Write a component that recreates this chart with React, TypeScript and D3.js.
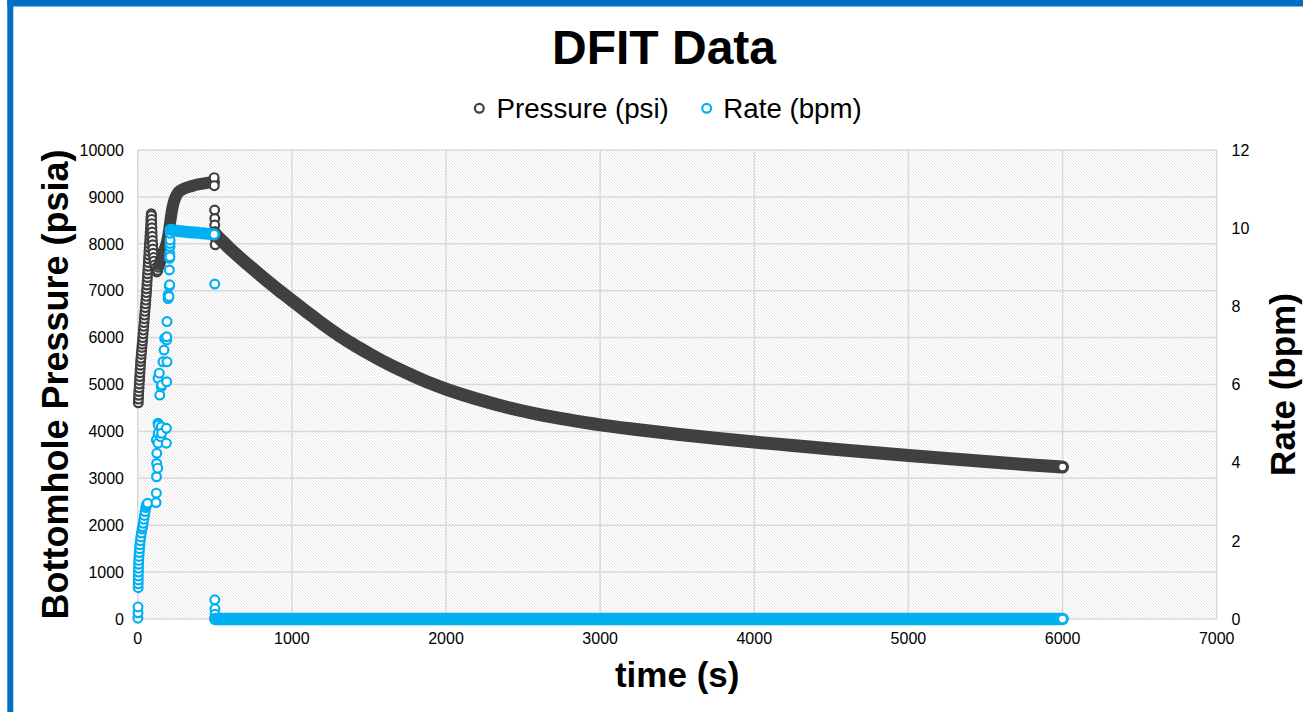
import React from 'react';
import * as d3 from 'd3';

const WIDTH = 1303;
const HEIGHT = 712;

const PRESSURE_COLOR = '#404040';
const RATE_COLOR = '#00B0F0';
const GRID_COLOR = '#d9d9d9';
const FONT = '"Liberation Sans", Arial, Helvetica, sans-serif';

type Pt = [number, number];

// Axis ticks
const timeTicks = [0, 1000, 2000, 3000, 4000, 5000, 6000, 7000];
const pressureTicks = [0, 1000, 2000, 3000, 4000, 5000, 6000, 7000, 8000, 9000, 10000];
const rateTicks = [0, 2, 4, 6, 8, 10, 12];

// Bottomhole pressure (time s, psi)
// pumping ramp up to breakdown
const pressureRamp: Pt[] = [
  [4, 4610], [5, 4690], [6, 4770], [7, 4850], [9, 4930], [10, 5010], [12, 5090], [13, 5170],
  [15, 5250], [16, 5330], [18, 5410], [19, 5490], [21, 5560], [23, 5640], [25, 5710], [27, 5790],
  [29, 5860], [31, 5930], [33, 6000], [35, 6080], [37, 6160], [39, 6240], [41, 6320], [43, 6400],
  [45, 6480], [47, 6560], [49, 6640], [51, 6720], [53, 6800], [55, 6880], [57, 6960], [58, 7040],
  [60, 7120], [61, 7200], [63, 7280], [64, 7360], [66, 7440], [67, 7520], [69, 7600], [70, 7680],
  [72, 7760], [73, 7840], [75, 7920], [76, 8000], [78, 8080], [79, 8160], [81, 8240], [82, 8320],
  [84, 8400], [85, 8480], [86, 8560], [88, 8640],
];
// breakdown and pressure dip
const pressureBreak: Pt[] = [
  [89, 8600], [90, 8520], [91, 8430], [92, 8340], [93, 8250], [94, 8160], [95, 8070], [97, 7980],
  [98, 7890], [100, 7800], [103, 7710], [106, 7630], [110, 7550], [114, 7480], [119, 7430],
  [124, 7400], [130, 7430], [136, 7500],
];
// continuous build to end of pumping
const pressureBuild: Pt[] = [
  [140, 7560], [155, 7700], [170, 7850], [185, 7980], [195, 8120], [205, 8320], [215, 8560],
  [225, 8760], [235, 8900], [245, 8990], [260, 9080], [280, 9140], [310, 9190], [350, 9230],
  [400, 9270], [450, 9300], [494, 9320],
];
// instantaneous shut-in drop
const pressureShut: Pt[] = [
  [496, 9410], [497, 9240], [499, 8720], [500, 8540], [500, 8400], [501, 8260], [502, 8120], [503, 7980],
];
// falloff after shut-in
const pressureFalloff: Pt[] = [
  [505, 8200], [550, 8050], [600, 7890], [700, 7600], [800, 7320], [900, 7050], [1000, 6795],
  [1100, 6540], [1200, 6290], [1300, 6060], [1400, 5850], [1500, 5660], [1600, 5480], [1700, 5315],
  [1800, 5165], [1900, 5025], [2000, 4900], [2200, 4690], [2400, 4510], [2600, 4365], [2800, 4245],
  [3000, 4140], [3250, 4035], [3500, 3940], [3750, 3853], [4000, 3773], [4250, 3700], [4500, 3625],
  [4750, 3555], [5000, 3487], [5250, 3420], [5500, 3356], [5750, 3296], [6000, 3240],
];

// Injection rate (time s, bpm)
const rateStart: Pt[] = [[1, 0.02], [2, 0.16], [2, 0.31]];
const rateRamp: Pt[] = [
  [3, 0.8], [3, 0.9], [4, 1.0], [4, 1.1], [5, 1.2], [5, 1.3], [6, 1.4], [7, 1.5], [8, 1.6],
  [10, 1.7], [12, 1.8], [14, 1.9], [17, 2.0], [20, 2.1], [24, 2.2], [28, 2.3], [32, 2.36],
  [36, 2.45], [40, 2.55], [44, 2.65], [48, 2.75], [52, 2.85], [56, 2.9], [60, 2.94], [64, 2.96],
];
const rateStep: Pt[] = [
  [119, 2.98], [121, 3.22], [121, 4.58], [122, 3.64], [123, 3.98], [124, 4.24], [130, 3.86],
  [132, 4.5], [132, 5.01], [132, 6.16], [133, 4.75], [134, 4.96], [140, 6.29], [143, 5.73],
  [150, 4.66], [153, 4.92], [153, 5.94], [155, 4.75], [156, 5.99], [164, 6.58], [171, 6.88],
  [175, 7.18], [186, 4.5], [186, 4.88], [188, 6.07], [188, 7.14], [188, 7.22], [190, 6.58],
  [190, 7.61], [197, 8.2], [197, 8.29], [203, 8.25], [205, 8.52], [205, 8.93], [207, 8.55],
  [207, 9.23], [208, 9.36], [209, 9.27], [209, 9.53], [210, 9.61], [210, 9.7], [211, 9.87],
];
const ratePlateau: Pt[] = [
  [213, 9.96], [240, 9.94], [280, 9.92], [320, 9.9], [360, 9.89], [400, 9.88], [440, 9.86], [496, 9.84],
];
const rateShut: Pt[] = [[500, 8.57], [500, 0.49], [501, 0.26], [502, 0.12]];
const rateZero: Pt[] = [
  [503, 0], [1000, 0], [2000, 0], [3000, 0], [4000, 0], [5000, 0], [6000, 0],
];

const MARKER_R = 4.4;
const MARKER_W = 2.2;

type Scale = (v: number) => number;

function Rings({ pts, sx, sy, color }: { pts: Pt[]; sx: Scale; sy: Scale; color: string }) {
  return (
    <g>
      {pts.map((d, i) => (
        <circle key={i} cx={sx(d[0])} cy={sy(d[1])} r={MARKER_R} fill="#fff" stroke={color} strokeWidth={MARKER_W} />
      ))}
    </g>
  );
}

// Densely sampled stretches: the overlapping markers merge into one band
function Trail({ pts, sx, sy, color, width }: { pts: Pt[]; sx: Scale; sy: Scale; color: string; width: number }) {
  const line = d3.line<Pt>().x((d) => sx(d[0])).y((d) => sy(d[1])).curve(d3.curveMonotoneX);
  const last = pts[pts.length - 1];
  return (
    <g>
      <path d={line(pts) || ''} fill="none" stroke={color} strokeWidth={width} strokeLinecap="round" strokeLinejoin="round" />
      <circle cx={sx(last[0])} cy={sy(last[1])} r={MARKER_R} fill="#fff" stroke={color} strokeWidth={MARKER_W} />
    </g>
  );
}

export default function App() {
  const left = 137.7;
  const right = 1216.7;
  const top = 150;
  const bottom = 619;

  const x = d3.scaleLinear().domain([0, 7000]).range([left, right]);
  const yP = d3.scaleLinear().domain([0, 10000]).range([bottom, top]);
  const yR = d3.scaleLinear().domain([0, 12]).range([bottom, top]);

  const midY = (top + bottom) / 2;

  return (
    <svg
      width={WIDTH}
      height={HEIGHT}
      style={{ position: 'absolute', left: 0, top: 0, display: 'block' }}
      fontFamily={FONT}
    >
      <defs>
        <pattern id="plotHatch" width={3} height={3} patternUnits="userSpaceOnUse">
          <rect width={3} height={3} fill="#fff" />
          <path d="M-1,-1 L4,4 M-1,2 L1,4 M2,-1 L4,1" stroke="#e0e0e0" strokeWidth={0.8} />
        </pattern>
        <clipPath id="plotClip">
          <rect x={left - 8} y={top - 8} width={right - left + 16} height={bottom - top + 16} />
        </clipPath>
      </defs>

      <rect x={0} y={0} width={WIDTH} height={HEIGHT} fill="#fff" />

      {/* title */}
      <text x={664} y={64} textAnchor="middle" fontSize={48} fontWeight="bold" fill="#000">
        DFIT Data
      </text>

      {/* legend */}
      <g>
        <circle cx={479.3} cy={108.3} r={MARKER_R} fill="#fff" stroke={PRESSURE_COLOR} strokeWidth={MARKER_W} />
        <text x={496.5} y={117.5} fontSize={27.7} fill="#000">Pressure (psi)</text>
        <circle cx={706.7} cy={108.3} r={MARKER_R} fill="#fff" stroke={RATE_COLOR} strokeWidth={MARKER_W} />
        <text x={723.3} y={117.5} fontSize={27.7} fill="#000">Rate (bpm)</text>
      </g>

      {/* plot area */}
      <rect x={left} y={top} width={right - left} height={bottom - top} fill="url(#plotHatch)" />
      <g stroke={GRID_COLOR} strokeWidth={1.5}>
        {pressureTicks.map((t) => (
          <line key={'h' + t} x1={left} x2={right} y1={yP(t)} y2={yP(t)} />
        ))}
        {timeTicks.map((t) => (
          <line key={'v' + t} x1={x(t)} x2={x(t)} y1={top} y2={bottom} />
        ))}
      </g>

      {/* tick labels */}
      <g fontSize={16} fill="#000">
        {pressureTicks.map((t) => (
          <text key={'pl' + t} x={124} y={yP(t) + 5.7} textAnchor="end">{t}</text>
        ))}
        {rateTicks.map((t) => (
          <text key={'rl' + t} x={1231.5} y={yR(t) + 5.7} textAnchor="start">{t}</text>
        ))}
        {timeTicks.map((t) => (
          <text key={'tl' + t} x={x(t)} y={644} textAnchor="middle">{t}</text>
        ))}
      </g>

      {/* axis titles */}
      <text
        transform={`translate(67.5, ${midY}) rotate(-90)`}
        textAnchor="middle"
        fontSize={36}
        fontWeight="bold"
        fill="#000"
      >
        Bottomhole Pressure (psia)
      </text>
      <text
        transform={`translate(1295, ${midY}) rotate(-90)`}
        textAnchor="middle"
        fontSize={35}
        fontWeight="bold"
        fill="#000"
      >
        Rate (bpm)
      </text>
      <text x={(left + right) / 2} y={687} textAnchor="middle" fontSize={35} fontWeight="bold" fill="#000">
        time (s)
      </text>

      <g clipPath="url(#plotClip)">
        {/* pressure series */}
        <Rings pts={pressureRamp} sx={x} sy={yP} color={PRESSURE_COLOR} />
        <Rings pts={pressureBreak} sx={x} sy={yP} color={PRESSURE_COLOR} />
        <Trail pts={pressureBuild} sx={x} sy={yP} color={PRESSURE_COLOR} width={12} />
        <Rings pts={pressureShut} sx={x} sy={yP} color={PRESSURE_COLOR} />
        <Trail pts={pressureFalloff} sx={x} sy={yP} color={PRESSURE_COLOR} width={13} />

        {/* rate series */}
        <Rings pts={rateStart} sx={x} sy={yR} color={RATE_COLOR} />
        <Rings pts={rateRamp} sx={x} sy={yR} color={RATE_COLOR} />
        <Rings pts={rateStep} sx={x} sy={yR} color={RATE_COLOR} />
        <Trail pts={ratePlateau} sx={x} sy={yR} color={RATE_COLOR} width={12} />
        <Rings pts={rateShut} sx={x} sy={yR} color={RATE_COLOR} />
        <Trail pts={rateZero} sx={x} sy={yR} color={RATE_COLOR} width={12.5} />
      </g>

      {/* frame accent */}
      <rect x={7.3} y={0} width={6} height={HEIGHT} fill="#0070C0" />
      <rect x={7.3} y={0} width={WIDTH - 7.3} height={6.5} fill="#0070C0" />
    </svg>
  );
}
